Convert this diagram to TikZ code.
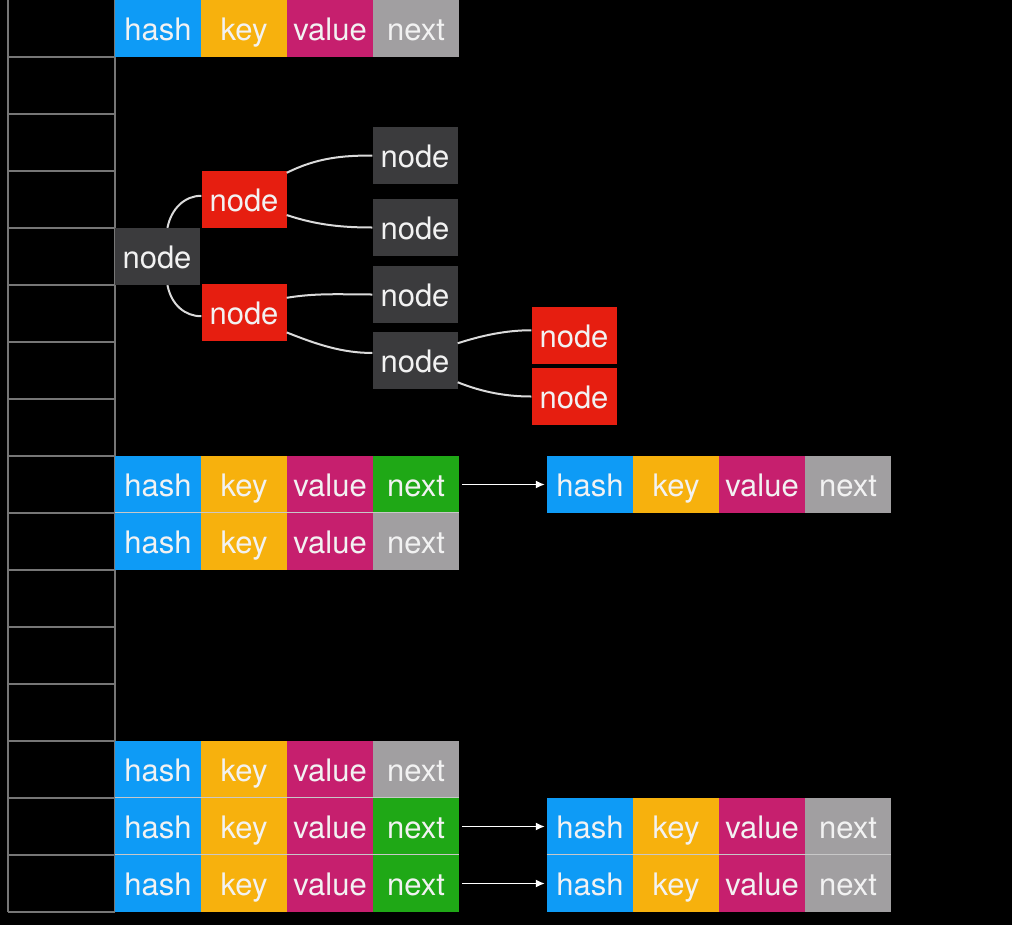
\documentclass[tikz,border=0pt]{standalone}
\usepackage{fontspec}
\setmainfont{TeX Gyre Heros}
\usepackage{xcolor}
\usetikzlibrary{arrows.meta}
\definecolor{HashBlue}{HTML}{0E9BF6}
\definecolor{KeyAmber}{HTML}{F7B10D}
\definecolor{ValueRose}{HTML}{C61F6E}
\definecolor{NextGray}{HTML}{A19FA1}
\definecolor{NextGreen}{HTML}{1FA816}
\definecolor{NodeRed}{HTML}{E61E10}
\definecolor{NodeGray}{HTML}{3B3B3D}
\definecolor{GridGray}{HTML}{767676}
\definecolor{SepGray}{HTML}{C8C8C8}
\definecolor{TreeLine}{HTML}{DADADA}
\definecolor{TextWhite}{HTML}{F2F2F2}

\begin{document}
\begin{tikzpicture}[x=1pt,y=-1pt,>={Latex[length=9pt,width=8pt]},
  field/.style={minimum width=86pt,minimum height=57pt,inner sep=0pt,
    text height=23pt,text depth=0pt,text=TextWhite,font=\fontsize{31}{36}\selectfont},
  treenode/.style={field,minimum width=85pt,fill=#1},
  branch/.style={TreeLine,line width=2pt},
  link/.style={->,white,line width=1.5pt,shorten <=3pt,shorten >=2pt},
  bucket/.style={GridGray,line width=1.6pt},
  sepline/.style={SepGray,line width=1pt}]
  \useasboundingbox (0,0) rectangle (1012,924);
  \fill[black] (-4,-4) rectangle (1016,928);
  % bucket array
  \foreach \r in {1,...,16}
    \draw[bucket] (8,57*\r) -- (115,57*\r);
  \draw[bucket] (8,0) -- (8,912);
  \draw[bucket] (115,0) -- (115,912);
  % entries
  \foreach \e/\x/\r/\nc in {top/115/0/NextGray,midA/115/8/NextGreen,midB/547/8/NextGray,
      midC/115/9/NextGray,lowA/115/13/NextGray,lowB/115/14/NextGreen,lowC/547/14/NextGray,
      lowD/115/15/NextGreen,lowE/547/15/NextGray}{%
    \foreach \f/\lab/\c [count=\i from 0] in {h/hash/HashBlue,k/key/KeyAmber,v/value/ValueRose,n/next/\nc}
      \node[field,fill=\c] (\e-\f) at (\x+43+86*\i,57*\r+28.5) {\lab};
  }
  \draw[sepline] (midC-h.north west) -- (midC-n.north east);
  \draw[sepline] (lowB-h.north west) -- (lowB-n.north east);
  \draw[sepline] (lowD-h.north west) -- (lowD-n.north east);
  \draw[sepline] (lowE-h.north west) -- (lowE-n.north east);
  \draw[link] (midA-n.east) -- (midB-h.west);
  \draw[link] (lowB-n.east) -- (lowC-h.west);
  \draw[link] (lowD-n.east) -- (lowE-h.west);
  % tree bin
  \node[treenode=NodeGray] (root) at (157,256.5) {node};
  \node[treenode=NodeRed] (redA) at (244,199.5) {node};
  \node[treenode=NodeRed] (redB) at (244,312.5) {node};
  \node[treenode=NodeGray] (leafA) at (415,155.5) {node};
  \node[treenode=NodeGray] (leafB) at (415,227.5) {node};
  \node[treenode=NodeGray] (leafC) at (415,294.5) {node};
  \node[treenode=NodeGray] (leafD) at (415,360.5) {node};
  \node[treenode=NodeRed] (redC) at (574,335.5) {node};
  \node[treenode=NodeRed] (redD) at (574,396.5) {node};
  \draw[branch] (root.70) .. controls +(4,-20) and +(-16,0) .. (redA.175);
  \draw[branch] (root.-70) .. controls +(4,20) and +(-16,0) .. (redB.185);
  \draw[branch] (redA.32) .. controls +(30,-15) and +(-30,0) .. (leafA.west);
  \draw[branch] (redA.-20) .. controls +(30,10) and +(-30,0) .. (leafB.west);
  \draw[branch] (redB.19) .. controls +(30,-5) and +(-30,0) .. (leafC.west);
  \draw[branch] (redB.-25) .. controls +(30,12) and +(-30,0) .. (leafD.170);
  \draw[branch] (leafD.22) .. controls +(25,-8) and +(-25,0) .. (redC.173);
  \draw[branch] (leafD.-27) .. controls +(25,10) and +(-25,0) .. (redD.west);
\end{tikzpicture}
\end{document}
